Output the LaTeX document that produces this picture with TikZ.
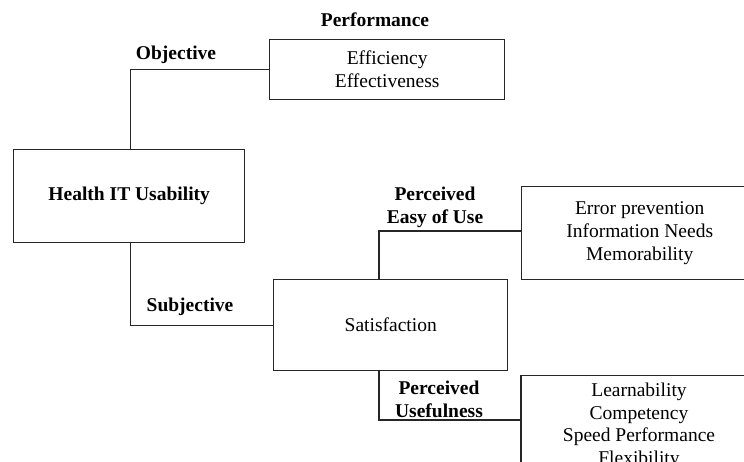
\documentclass[tikz,border=0pt]{standalone}
\usepackage{fontspec}
\setmainfont{Liberation Serif}
\begin{document}
\begin{tikzpicture}[x=1pt,y=-1pt,
  every node/.style={font=\fontsize{19.5}{23}\selectfont},
  box/.style={draw=black!85, line width=1.4pt, align=center, inner sep=0pt, anchor=north west},
  link/.style={draw=black!85, line width=1.4pt},
  tag/.style={font=\fontsize{19.5}{23}\selectfont\bfseries, align=center, inner sep=0pt}]
\useasboundingbox (0,0) rectangle (744,462);
\clip (0,0) rectangle (744,462);

% boxes
\node[box, minimum width=231pt, minimum height=93pt] (hit) at (13,149) {\bfseries Health IT Usability};
\node[box, minimum width=235pt, minimum height=60pt] (perf) at (269,39) {Efficiency\\Effectiveness};
\node[box, minimum width=234pt, minimum height=91pt] (sat) at (273,279) {Satisfaction};
\node[box, minimum width=236pt, minimum height=93pt] (eou) at (521,186) {Error prevention\\Information Needs\\Memorability};
\node[box, minimum width=236pt, minimum height=100pt, inner ysep=0pt, anchor=north,
      font=\fontsize{19.5}{22.5}\selectfont] (use) at (639,375)
  {Learnability\\Competency\\Speed Performance\\Flexibility};

% branch labels
\node[tag] (lobj) at (176,55) {Objective};
\node[tag] (lperf) at (375,20) {Performance};
\node[tag] (lsub) at (190,307) {Subjective};
\node[tag] (leou) at (435,207.5) {Perceived\\Easy of Use};
\node[tag] (luse) at (439,399) {Perceived\\Usefulness};

% connectors (yshift is measured upwards on the canvas)
\draw[link] ([xshift=1.5pt]hit.north) |- (perf.west);
\draw[link] ([xshift=1.5pt]hit.south) |- (sat.west);
\draw[link] ([xshift=106pt]sat.north west) |- ([yshift=2pt]eou.west);
\draw[link] ([xshift=106pt]sat.south west) |- ([yshift=-45pt]use.north west);
\end{tikzpicture}
\end{document}
